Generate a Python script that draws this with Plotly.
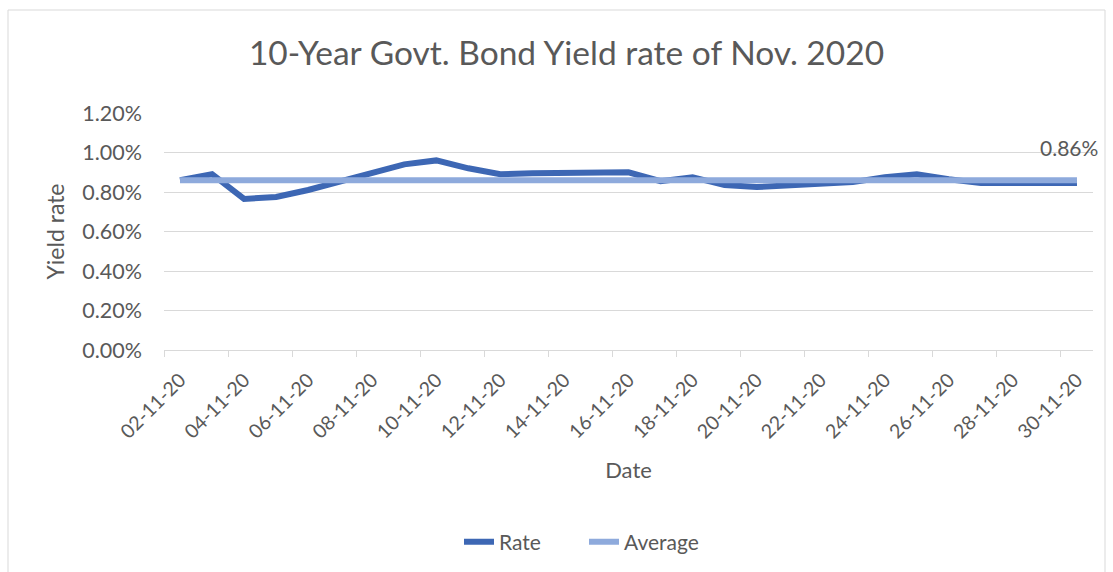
import plotly.graph_objects as go

# Trading days of November 2020 and the 10-year government bond yield (%)
dates = [
    "2020-11-02", "2020-11-03", "2020-11-04", "2020-11-05", "2020-11-06",
    "2020-11-09", "2020-11-10", "2020-11-11", "2020-11-12", "2020-11-13",
    "2020-11-16", "2020-11-17", "2020-11-18", "2020-11-19", "2020-11-20",
    "2020-11-23", "2020-11-24", "2020-11-25", "2020-11-26", "2020-11-27",
    "2020-11-30",
]
rate = [
    0.86, 0.89, 0.765, 0.775, 0.81,
    0.94, 0.96, 0.92, 0.89, 0.895,
    0.90, 0.855, 0.875, 0.835, 0.825,
    0.85, 0.875, 0.89, 0.865, 0.845,
    0.845,
]
average = 0.86

W, H = 1113, 572
PLOT_L, PLOT_R, PLOT_T, PLOT_B = 164, 1093, 113, 350

FONT = "Lato"
GREY = "#595959"
GRID = "#d9d9d9"

fig = go.Figure()

fig.add_trace(go.Scatter(
    x=dates, y=rate, name="Rate", mode="lines",
    line=dict(color="#3d67b4", width=6, shape="linear"),
))
fig.add_trace(go.Scatter(
    x=dates, y=[average] * len(dates), name="Average", mode="lines",
    line=dict(color="#8eaadc", width=6),
))

# value label above the last point of the average series
fig.add_annotation(
    x=dates[-1], y=average, text=f"{average:.2f}%",
    showarrow=False, yshift=33, xshift=-8,
    font=dict(family=FONT, size=21, color=GREY),
)

# chart-area border
def px_x(p):
    return (p - PLOT_L) / (PLOT_R - PLOT_L)

def px_y(p):
    return (PLOT_B - p) / (PLOT_B - PLOT_T)

fig.add_shape(
    type="rect", xref="paper", yref="paper",
    x0=px_x(8), x1=px_x(1105), y0=px_y(590), y1=px_y(10),
    line=dict(color=GRID, width=1), fillcolor="rgba(0,0,0,0)", layer="below",
)

fig.update_layout(
    width=W, height=H,
    margin=dict(l=PLOT_L, r=W - PLOT_R, t=PLOT_T, b=H - PLOT_B, pad=0),
    paper_bgcolor="white", plot_bgcolor="white",
    font=dict(family=FONT, color=GREY),
    title=dict(
        text="10-Year Govt. Bond Yield rate of Nov. 2020",
        xref="container", yref="container",
        x=566.5 / W, y=1 - 53 / H, xanchor="center", yanchor="middle",
        font=dict(family=FONT, size=33.5, color=GREY),
    ),
    showlegend=True,
    legend=dict(
        orientation="h", xref="container", yref="container",
        x=584 / W, y=1 - 542 / H, xanchor="center", yanchor="middle",
        font=dict(family=FONT, size=21, color=GREY),
        itemwidth=30, entrywidth=80, entrywidthmode="pixels",
        bgcolor="rgba(0,0,0,0)",
    ),
    xaxis=dict(
        type="date",
        range=["2020-11-01 12:00", "2020-11-30 12:00"],
        tick0="2020-11-02", dtick=2 * 86400000,
        tickformat="%d-%m-%y", tickangle=-45,
        ticks="", ticklabelstandoff=10,
        tickfont=dict(family=FONT, size=19.5, color=GREY),
        minor=dict(
            tick0="2020-11-01 12:00", dtick=2 * 86400000,
            ticks="outside", ticklen=6, tickcolor=GRID, tickwidth=1,
            showgrid=False,
        ),
        showline=True, linecolor=GRID, linewidth=1,
        showgrid=False, zeroline=False,
        title=dict(text="Date", standoff=20,
                   font=dict(family=FONT, size=22, color=GREY)),
    ),
    yaxis=dict(
        range=[0, 1.2], dtick=0.2, tickformat=".2f", ticksuffix="%",
        ticks="", ticklabelstandoff=21,
        tickfont=dict(family=FONT, size=21.5, color=GREY),
        showgrid=True, gridcolor=GRID, gridwidth=1,
        showline=False, zeroline=False,
        title=dict(text="Yield rate", standoff=11,
                   font=dict(family=FONT, size=23, color=GREY)),
    ),
)

fig.write_html("out.html")
